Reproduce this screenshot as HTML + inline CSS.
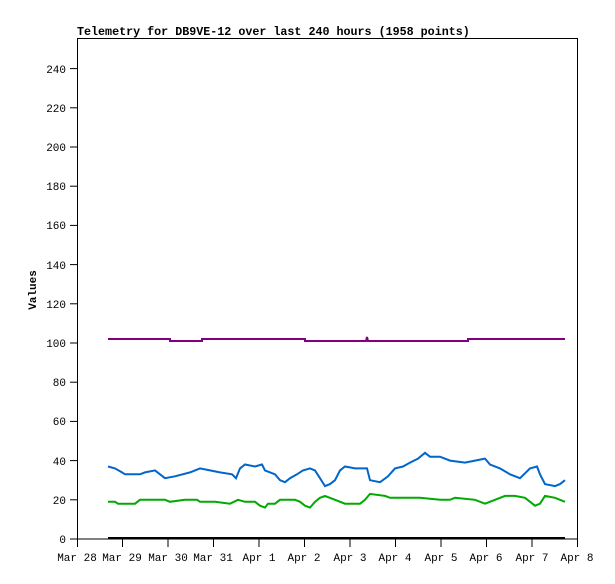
<!DOCTYPE html>
<html><head><style>body{margin:0;background:#fff}</style></head><body>
<svg width="615" height="579" xmlns="http://www.w3.org/2000/svg" font-family="Liberation Mono, monospace" font-size="11">
<rect width="615" height="579" fill="#fff"/>
<text x="77" y="35" font-weight="bold" font-size="11.7">Telemetry for DB9VE-12 over last 240 hours (1958 points)</text>
<rect x="77.5" y="38.5" width="500" height="500.5" fill="none" stroke="#000" stroke-width="1"/>
<g stroke="#000" stroke-width="1">
<line x1="70" x2="77" y1="539" y2="539"/><line x1="70" x2="77" y1="499.8" y2="499.8"/><line x1="70" x2="77" y1="460.6" y2="460.6"/><line x1="70" x2="77" y1="421.4" y2="421.4"/><line x1="70" x2="77" y1="382.2" y2="382.2"/><line x1="70" x2="77" y1="343" y2="343"/><line x1="70" x2="77" y1="303.8" y2="303.8"/><line x1="70" x2="77" y1="264.6" y2="264.6"/><line x1="70" x2="77" y1="225.4" y2="225.4"/><line x1="70" x2="77" y1="186.2" y2="186.2"/><line x1="70" x2="77" y1="147" y2="147"/><line x1="70" x2="77" y1="107.8" y2="107.8"/><line x1="70" x2="77" y1="68.6" y2="68.6"/>
<line x1="77.5" x2="77.5" y1="539" y2="547"/><line x1="122.5" x2="122.5" y1="539" y2="547"/><line x1="168" x2="168" y1="539" y2="547"/><line x1="213.5" x2="213.5" y1="539" y2="547"/><line x1="259" x2="259" y1="539" y2="547"/><line x1="304.5" x2="304.5" y1="539" y2="547"/><line x1="350" x2="350" y1="539" y2="547"/><line x1="395.5" x2="395.5" y1="539" y2="547"/><line x1="441" x2="441" y1="539" y2="547"/><line x1="486.5" x2="486.5" y1="539" y2="547"/><line x1="532" x2="532" y1="539" y2="547"/><line x1="577.5" x2="577.5" y1="539" y2="547"/>
</g>
<g text-anchor="end">
<text x="66" y="543">0</text><text x="66" y="504">20</text><text x="66" y="465">40</text><text x="66" y="425">60</text><text x="66" y="386">80</text><text x="66" y="347">100</text><text x="66" y="308">120</text><text x="66" y="269">140</text><text x="66" y="229">160</text><text x="66" y="190">180</text><text x="66" y="151">200</text><text x="66" y="112">220</text><text x="66" y="73">240</text>
</g>
<g text-anchor="middle">
<text x="77" y="561">Mar 28</text><text x="122" y="561">Mar 29</text><text x="168" y="561">Mar 30</text><text x="213" y="561">Mar 31</text><text x="259" y="561">Apr 1</text><text x="304" y="561">Apr 2</text><text x="350" y="561">Apr 3</text><text x="395" y="561">Apr 4</text><text x="441" y="561">Apr 5</text><text x="486" y="561">Apr 6</text><text x="532" y="561">Apr 7</text><text x="577" y="561">Apr 8</text>
</g>
<text transform="translate(36,290) rotate(-90)" text-anchor="middle" font-weight="bold">Values</text>
<line x1="108" x2="565" y1="538" y2="538" stroke="#000" stroke-width="2"/>
<polyline fill="none" stroke="#800080" stroke-width="2" points="108,339 170,339 170,341 202,341 202,339 305,339 305,341 366,341 367,337 368,341 468,341 468,339 565,339"/>
<polyline fill="none" stroke="#0066cc" stroke-width="2" points="108,466.5 115,468.4 122,472.4 125,474.3 140,474.3 145,472.4 155,470.4 160,474.3 165,478.2 175,476.3 190,472.4 200,468.4 210,470.4 220,472.4 232,474.3 236,478.2 240,468.4 245,464.5 255,466.5 262,464.5 265,470.4 275,474.3 280,480.2 285,482.2 290,478.2 297,474.3 303,470.4 310,468.4 315,470.4 320,478.2 325,486.1 330,484.1 335,480.2 340,470.4 345,466.5 355,468.4 367,468.4 370,480.2 380,482.2 388,476.3 395,468.4 403,466.5 410,462.6 418,458.6 425,452.8 430,456.7 440,456.7 450,460.6 465,462.6 475,460.6 485,458.6 490,464.5 500,468.4 510,474.3 520,478.2 530,468.4 537,466.5 540,474.3 545,484.1 555,486.1 560,484.1 565,480.2"/>
<polyline fill="none" stroke="#00aa00" stroke-width="2" points="108,501.8 115,501.8 118,503.7 135,503.7 140,499.8 165,499.8 170,501.8 185,499.8 197,499.8 200,501.8 215,501.8 230,503.7 238,499.8 245,501.8 255,501.8 260,505.7 265,507.6 268,503.7 275,503.7 280,499.8 295,499.8 300,501.8 305,505.7 310,507.6 315,501.8 320,497.8 325,495.9 335,499.8 345,503.7 360,503.7 365,499.8 370,493.9 385,495.9 390,497.8 420,497.8 440,499.8 450,499.8 455,497.8 475,499.8 485,503.7 495,499.8 505,495.9 515,495.9 525,497.8 535,505.7 540,503.7 545,495.9 555,497.8 565,501.8"/>
</svg>
</body></html>
